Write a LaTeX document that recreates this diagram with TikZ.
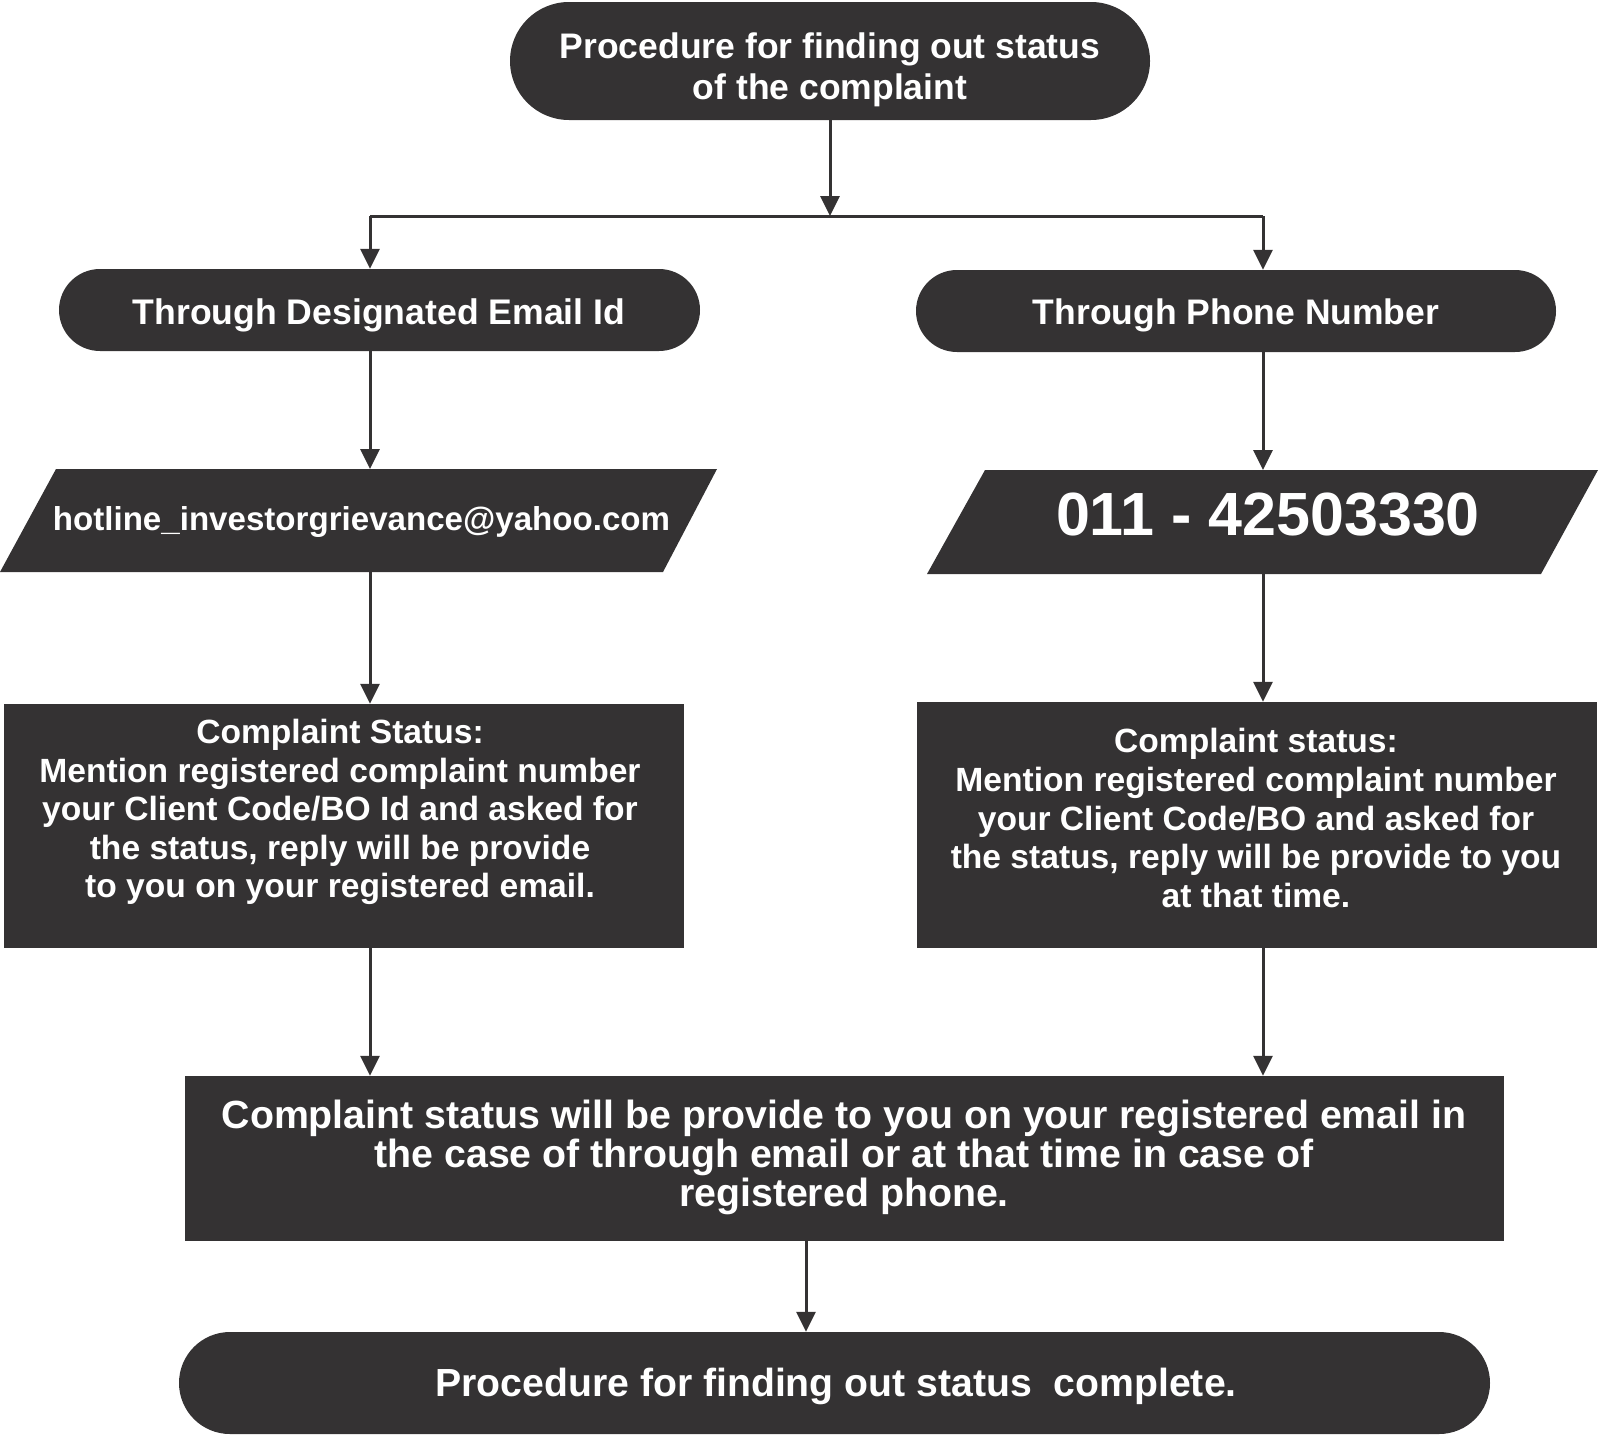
\documentclass[tikz,border=0pt]{standalone}
\usepackage{fontspec}
\usetikzlibrary{arrows.meta}
\setmainfont{Liberation Sans}
\newfontfamily\dfont{Liberation Sans Bold}
\definecolor{dk}{RGB}{52,50,51}
\begin{document}
\begin{tikzpicture}[x=1pt,y=-1pt,
  shapebox/.style={fill=dk, inner sep=0pt},
  txt/.style={text=white, align=center, inner sep=0pt},
  plain/.style={draw=dk, line width=3pt},
  conn/.style={draw=dk, line width=3pt, -{Triangle[width=19pt,length=20pt]}}]
\useasboundingbox (0,0) rectangle (1600,1435);

% shapes
\node[shapebox, rounded corners=59pt, minimum width=640pt, minimum height=118pt] (start) at (830,61) {};
\node[shapebox, rounded corners=41pt, minimum width=641pt, minimum height=82pt] (email) at (379.5,310) {};
\node[shapebox, rounded corners=41pt, minimum width=640pt, minimum height=82pt] (phone) at (1236,311) {};
\fill[dk] (56,469) -- (717,469) -- (663,572) -- (0,572) -- cycle;
\fill[dk] (985,470) -- (1598,470) -- (1541,574) -- (927,574) -- cycle;
\node[shapebox, minimum width=680pt, minimum height=244pt] (lrect) at (344,826) {};
\node[shapebox, minimum width=680pt, minimum height=246pt] (rrect) at (1257,825) {};
\node[shapebox, minimum width=1319pt, minimum height=165pt] (merge) at (844.5,1158.5) {};
\node[shapebox, rounded corners=51pt, minimum width=1311pt, minimum height=102pt] (finish) at (834.5,1383) {};

% texts
\node[txt, font=\dfont\fontsize{35.5}{41}\selectfont] (starttxt) at (830,70) {Procedure for finding out status\\of the complaint};
\node[txt, font=\dfont\fontsize{35.6}{40}\selectfont] (emailtxt) at (379,315) {Through Designated Email Id};
\node[txt, font=\dfont\fontsize{35.5}{40}\selectfont] (phonetxt) at (1236,315) {Through Phone Number};
\node[txt, font=\dfont\fontsize{33.1}{38}\selectfont] (addr) at (361.5,522) {hotline\_investorgrievance@yahoo.com};
\node[txt, font=\dfont\fontsize{61}{64}\selectfont] (num) at (1268,515) {011 - 42503330};
\node[txt, font=\dfont\fontsize{33.6}{38.6}\selectfont] (ltxt) at (340,812) {Complaint Status:\\Mention registered complaint number\\your Client Code/BO Id and asked for\\the status, reply will be provide\\to you on your registered email.};
\node[txt, font=\dfont\fontsize{33.6}{38.6}\selectfont] (rtxt) at (1256,818) {Complaint status:\\Mention registered complaint number\\your Client Code/BO and asked for\\the status, reply will be provide to you\\at that time.};
\node[txt, font=\dfont\fontsize{39.3}{39}\selectfont] (mtxt) at (844,1157) {Complaint status will be provide to you on your registered email in\\the case of through email or at that time in case of\\registered phone.};
\node[txt, font=\dfont\fontsize{39.2}{40}\selectfont] (ftxt) at (836,1386) {Procedure for finding out status\ \ complete.};

% coordinates
\coordinate (L) at (370,0);
\coordinate (R) at (1263,0);
\coordinate (j0) at (830,216);
\coordinate (jl) at (370,216);
\coordinate (jr) at (1263,216);
\coordinate (ept) at (370,469);
\coordinate (epb) at (370,572);
\coordinate (ppt) at (1263,470);
\coordinate (ppb) at (1263,574);
\coordinate (mid) at (806,0);

% connectors
\draw[conn] (start.south) -- (j0);
\draw[plain] (jl) -- (jr);
\draw[conn] (jl) -- (L |- email.north);
\draw[conn] (jr) -- (R |- phone.north);
\draw[conn] (L |- email.south) -- (ept);
\draw[conn] (R |- phone.south) -- (ppt);
\draw[conn] (epb) -- (L |- lrect.north);
\draw[conn] (ppb) -- (R |- rrect.north);
\draw[conn] (L |- lrect.south) -- (L |- merge.north);
\draw[conn] (R |- rrect.south) -- (R |- merge.north);
\draw[conn] (mid |- merge.south) -- (mid |- finish.north);
\end{tikzpicture}
\end{document}
